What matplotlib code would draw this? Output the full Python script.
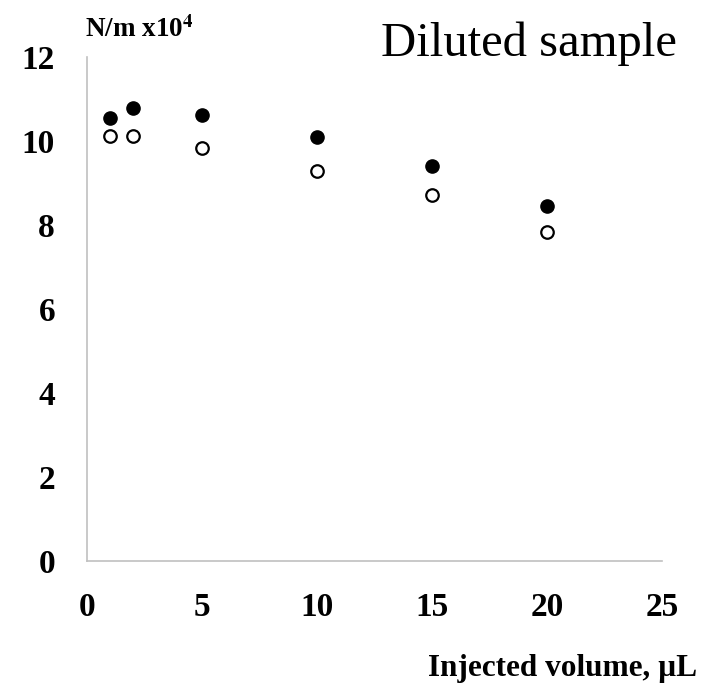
import matplotlib
matplotlib.use('Agg')
import matplotlib.pyplot as plt

# Injected volume (uL) and surface tension readings (N/m x10^4)
volume = [1, 2, 5, 10, 15, 20]
filled_vals = [10.55, 10.78, 10.62, 10.10, 9.40, 8.45]
open_vals = [10.12, 10.12, 9.82, 9.28, 8.72, 7.82]

xticks = [0, 5, 10, 15, 20, 25]
yticks = [0, 2, 4, 6, 8, 10, 12]

plt.rcParams['font.family'] = ['Liberation Serif', 'DejaVu Serif']
plt.rcParams['mathtext.fontset'] = 'stix'

fig = plt.figure(figsize=(7.03, 6.91), dpi=100)
ax = fig.add_axes([0.1238, 0.188, 0.818, 0.730])

ax.plot(volume, filled_vals, 'o', color='black', markersize=9.5, linestyle='none')
ax.plot(volume, open_vals, 'o', markerfacecolor='white', markeredgecolor='black',
        markeredgewidth=1.6, markersize=9, linestyle='none')

ax.set_xlim(0, 25)
ax.set_ylim(0, 12)
ax.set_xticks(xticks)
ax.set_yticks(yticks)
ax.tick_params(length=0, labelsize=24)
ax.tick_params(axis='x', pad=22)
ax.tick_params(axis='y', pad=23)
for lab in ax.get_xticklabels() + ax.get_yticklabels():
    lab.set_fontweight('bold')

for side in ['top', 'right']:
    ax.spines[side].set_visible(False)
for side in ['left', 'bottom']:
    ax.spines[side].set_color('#c0c0c0')
    ax.spines[side].set_linewidth(1.2)

fig.text(0.121, 0.957, r'N/m x10$^{\mathbf{4}}$', fontsize=19.5, fontweight='bold',
         ha='left', va='center')
fig.text(0.963, 0.937, 'Diluted sample', fontsize=35, ha='right', va='center')
fig.text(0.991, 0.032, 'Injected volume, \u00b5L', fontsize=22.5, fontweight='bold',
         ha='right', va='center')

plt.savefig('out.png', dpi=100)
